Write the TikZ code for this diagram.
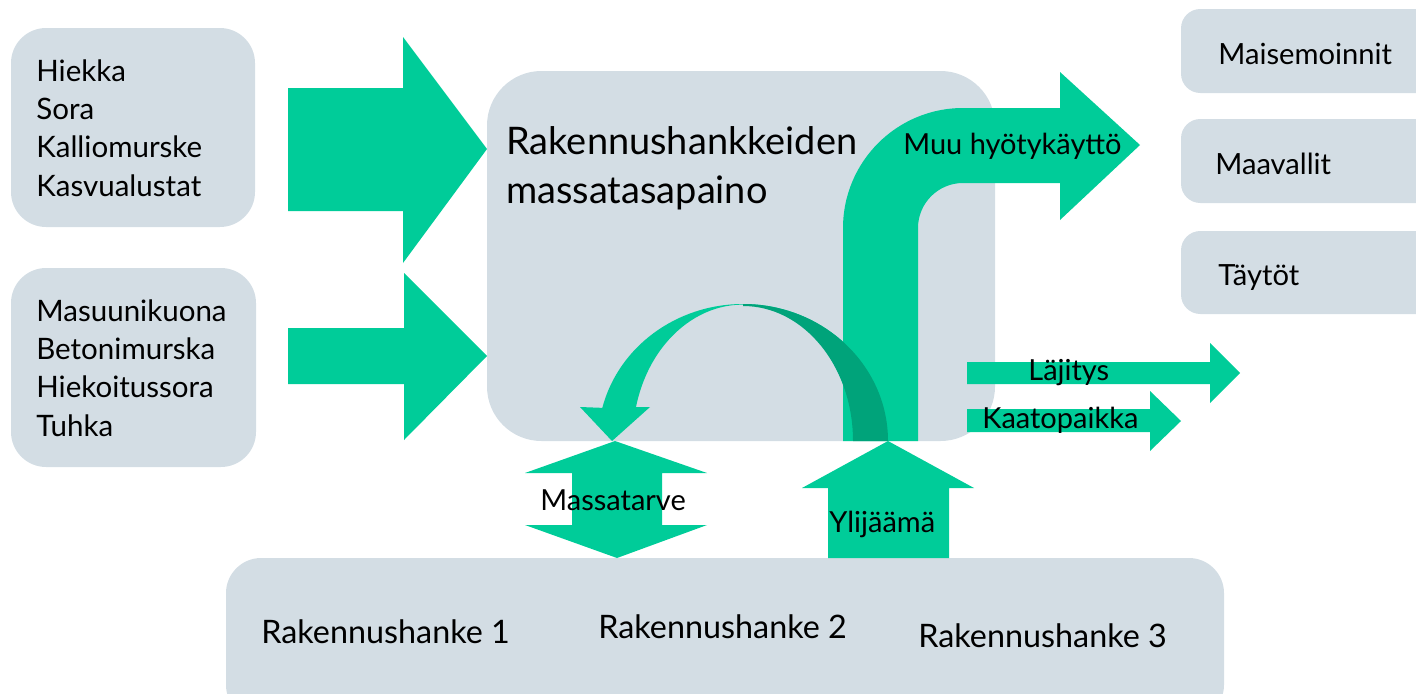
\documentclass[tikz,border=0pt]{standalone}
\usepackage{fontspec}
\setmainfont{Lato}
\usepackage{tikz}

\definecolor{boxgray}{RGB}{211,221,228}
\definecolor{flowgreen}{RGB}{0,204,153}
\definecolor{flowdark}{RGB}{0,163,122}

\tikzset{
	box/.style={fill=boxgray, rounded corners=#1},
	flow/.style={fill=flowgreen},
	flowback/.style={fill=flowdark},
	txt/.style={inner sep=0pt, anchor=base west, text=black},
	listfont/.style={font=\fontsize{16.8}{21.7}\selectfont},
	sitefont/.style={font=\fontsize{16.6}{20}\selectfont},
	projfont/.style={font=\fontsize{18.4}{22}\selectfont},
	bigfont/.style={font=\fontsize{21.6}{27.8}\selectfont},
	lblfont/.style={font=\fontsize{16.5}{19}\selectfont}
}

\begin{document}
\begin{tikzpicture}[x=0.02cm, y=-0.02cm]
	\useasboundingbox (0,0) rectangle (1416,693);
	\clip (0,0) rectangle (1416,693);
	
	% boxes
	\fill[box=20pt] (11,28) rectangle (255,227);
	\fill[box=20pt] (11,268) rectangle (256,467);
	\fill[box=31pt] (487,71) rectangle (995,441);
	\fill[box=11pt] (1181,9) rectangle (1450,93);
	\fill[box=11pt] (1181,119) rectangle (1450,203);
	\fill[box=11pt] (1181,231) rectangle (1450,314);
	\fill[box=20pt] (226,558) rectangle (1224,720);
	
	% inflows
	\fill[flow] (288,88) -- (403,88) -- (403,37) -- (487,149) -- (403,263) -- (403,211) -- (288,211) -- cycle;
	\fill[flow] (288,328) -- (404,328) -- (404,273) -- (487,356) -- (404,440) -- (404,384) -- (288,384) -- cycle;
	
	% other use
	\fill[flow] (843,441) -- (843,228) arc[start angle=180, end angle=270, radius=120] -- (1060,108) -- (1060,72) -- (1140,145) -- (1060,220) -- (1060,183) -- (963,183) arc[start angle=270, end angle=180, radius=45] -- (918,441) -- cycle;
	
	% reuse loop
	\fill[flow] (888,441) arc[start angle=0, end angle=-166, x radius=145, y radius=137] -- (580,407) -- (612,441) -- (650,407) -- (636,407) arc[start angle=-166, end angle=0, x radius=110, y radius=135] -- cycle;
	\fill[flowback] (888,441) arc[start angle=0, end angle=-90, x radius=145, y radius=137] -- ++(0,2) arc[start angle=-90, end angle=0, x radius=110, y radius=135] -- cycle;
	
	% need and surplus
	\fill[flow] (615,441) -- (707,473) -- (662,473) -- (662,525) -- (707,525) -- (617,558) -- (525,525) -- (572,525) -- (572,473) -- (525,473) -- cycle;
	\fill[flow] (888,441) -- (974,488) -- (949,488) -- (949,558) -- (828,558) -- (828,488) -- (802,488) -- cycle;
	
	% outflows
	\fill[flow] (967,362) -- (1210,362) -- (1210,343) -- (1240,373) -- (1210,403) -- (1210,384) -- (967,384) -- cycle;
	\fill[flow] (967,409) -- (1150,409) -- (1150,391) -- (1181,421) -- (1150,451) -- (1150,432) -- (967,432) -- cycle;
	
	\node[txt, listfont, align=left] (natural) at (36,196) {Hiekka\\Sora\\Kalliomurske\\Kasvualustat};
	\node[txt, listfont, align=left] (recycled) at (36,436) {Masuunikuona\\Betonimurska\\Hiekoitussora\\Tuhka};
	\node[txt, bigfont, align=left] (balance) at (506,203) {Rakennushankkeiden\\massatasapaino};
	
	\node[txt, sitefont] (landscape) at (1218,64) {Maisemoinnit};
	\node[txt, sitefont] (banks) at (1215,174) {Maavallit};
	\node[txt, sitefont] (fills) at (1218,285) {Täytöt};
	
	\node[txt, lblfont] (otheruse) at (903,154) {Muu hyötykäyttö};
	\node[txt, lblfont] (deposit) at (1028,380) {Läjitys};
	\node[txt, lblfont] (landfill) at (982,428) {Kaatopaikka};
	\node[txt, lblfont] (need) at (540,510) {Massatarve};
	\node[txt, lblfont] (surplus) at (829,532) {Ylijäämä};
	
	\node[txt, projfont] (proj1) at (261,643) {Rakennushanke 1};
	\node[txt, projfont] (proj2) at (598,638) {Rakennushanke 2};
	\node[txt, projfont] (proj3) at (918,647) {Rakennushanke 3};
\end{tikzpicture}
\end{document}
